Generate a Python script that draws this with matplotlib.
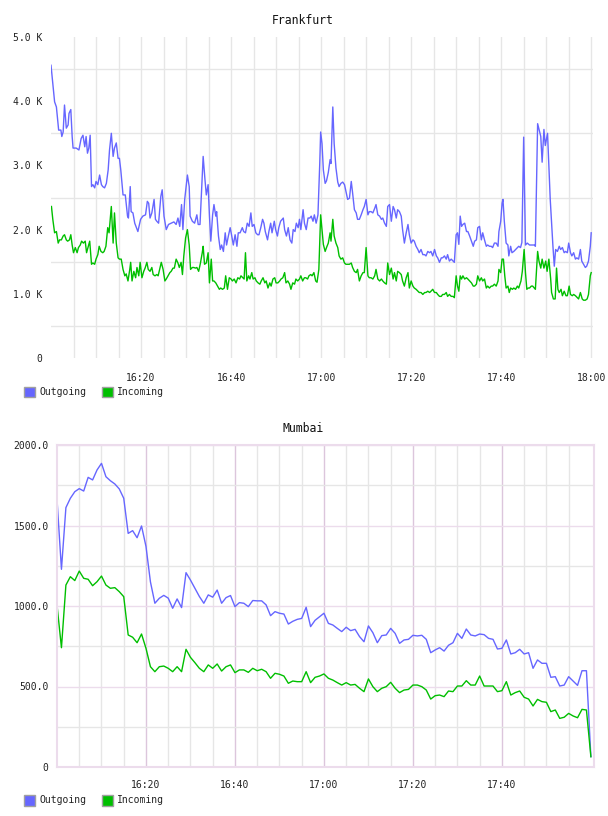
import matplotlib
matplotlib.use('Agg')
import matplotlib.pyplot as plt
from matplotlib.patches import Rectangle

# ---- Frankfurt (minutes after 16:00, values in K) ----
fra_out_min = [0.0, 0.8, 1.2, 1.7, 2.2, 2.4, 2.7, 3.0, 3.4, 3.8, 4.0, 4.4, 4.7, 4.9, 5.6, 6.2, 6.7, 7.1, 7.5, 7.8,
               8.1, 8.4, 8.7, 9.0, 9.3, 9.7, 10.0, 10.4, 10.8, 11.2, 11.5, 11.9, 12.3, 12.7, 13.0, 13.4, 13.8, 14.1,
               14.5, 14.9, 15.2, 15.5, 16.0, 16.5, 17.0, 17.2, 17.6, 17.8, 18.2, 18.6, 19.3, 19.9, 20.4, 21.0, 21.4,
               21.7, 22.0, 22.4, 22.9, 23.2, 23.5, 23.9, 24.4, 24.7, 25.1, 25.6, 26.1, 26.7, 27.3, 27.8, 28.2, 28.6,
               29.0, 29.3, 29.7, 30.3, 30.7, 30.9, 31.4, 31.9, 32.4, 32.7, 33.1, 33.8, 34.2, 34.5, 34.9, 35.2, 35.5,
               35.9, 36.2, 36.6, 36.8, 37.2, 37.6, 37.9, 38.3, 38.7, 39.0, 39.4, 39.8, 40.1, 40.5, 40.9, 41.3, 41.6,
               42.0, 42.5, 42.8, 43.2, 43.6, 44.0, 44.4, 44.7, 45.1, 45.5, 45.9, 46.2, 46.6, 47.0, 47.3, 47.6, 48.1,
               48.4, 48.8, 49.1, 49.6, 49.9, 50.3, 50.6, 51.0, 51.6, 51.9, 52.3, 52.7, 53.1, 53.5, 53.8, 54.2, 54.5,
               54.9, 55.2, 55.5, 56.0, 56.3, 56.7, 57.1, 57.5, 57.8, 58.2, 58.5, 58.9, 59.3, 59.7, 59.9, 60.2, 60.5,
               60.9, 61.2, 61.6, 62.0, 62.2, 62.6, 62.9, 63.3, 63.7, 64.0, 64.4, 64.8, 65.2, 65.6, 65.9, 66.3, 66.7,
               67.0, 67.4, 67.8, 68.1, 68.5, 68.9, 69.3, 69.6, 70.0, 70.4, 70.7, 71.1, 71.5, 71.9, 72.2, 72.6, 73.0,
               73.4, 73.7, 74.1, 74.5, 74.8, 75.2, 75.6, 76.0, 76.3, 76.7, 77.0, 77.4, 77.8, 78.1, 78.5, 78.9, 79.3,
               79.6, 80.0, 80.4, 80.7, 81.1, 81.5, 81.8, 82.2, 82.6, 83.0, 83.3, 83.7, 84.1, 84.4, 84.8, 85.2, 85.6,
               85.9, 86.3, 86.7, 87.0, 87.4, 87.8, 88.1, 88.5, 88.9, 89.3, 89.6, 90.0, 90.3, 90.6, 90.9, 91.2, 91.5,
               91.9, 92.3, 92.6, 93.0, 93.4, 93.8, 94.1, 94.5, 94.8, 95.2, 95.6, 95.9, 96.3, 96.7, 97.0, 97.4, 97.8,
               98.1, 98.5, 98.9, 99.3, 99.5, 99.9, 100.2, 100.4, 100.7, 101.1, 101.5, 101.7, 102.1, 102.4, 102.8,
               103.2, 103.6, 103.9, 104.3, 104.6, 105.0, 105.4, 105.8, 106.3, 106.9, 107.4, 107.6, 108.1, 108.8,
               109.1, 109.5, 109.8, 110.3, 110.9, 111.5, 111.8, 112.1, 112.5, 112.9, 113.2, 113.6, 114.0, 114.3,
               114.7, 115.0, 115.4, 115.7, 116.1, 116.5, 116.8, 117.2, 117.6, 117.9, 118.3, 118.7, 119.0, 119.4,
               119.8, 120.0]
fra_out_k = [4.56, 3.99, 3.91, 3.55, 3.55, 3.45, 3.52, 3.94, 3.58, 3.63, 3.81, 3.87, 3.45, 3.27, 3.27, 3.24, 3.42,
             3.47, 3.29, 3.45, 3.19, 3.27, 3.47, 2.67, 2.70, 2.65, 2.75, 2.70, 2.85, 2.70, 2.67, 2.65, 2.72, 2.93,
             3.24, 3.50, 3.14, 3.27, 3.35, 3.11, 3.11, 2.93, 2.54, 2.54, 2.21, 2.18, 2.67, 2.28, 2.26, 2.10, 1.97,
             2.16, 2.21, 2.23, 2.44, 2.41, 2.18, 2.26, 2.47, 2.16, 2.13, 2.10, 2.52, 2.62, 2.21, 2.00, 2.08, 2.10,
             2.12, 2.08, 2.18, 2.05, 2.39, 2.00, 2.47, 2.85, 2.67, 2.21, 2.13, 2.10, 2.23, 2.08, 2.08, 3.14, 2.78,
             2.54, 2.70, 2.21, 1.82, 2.23, 2.39, 2.21, 2.28, 1.90, 1.69, 1.76, 1.66, 1.95, 1.76, 1.90, 2.03, 1.92,
             1.76, 1.92, 1.74, 1.95, 1.95, 2.03, 1.97, 1.95, 2.10, 2.05, 2.26, 2.05, 2.08, 1.95, 1.92, 1.92, 2.03,
             2.16, 2.10, 1.97, 1.84, 1.97, 2.10, 1.95, 2.13, 2.00, 1.90, 2.03, 2.13, 2.18, 2.00, 1.90, 2.03, 1.84,
             1.79, 2.00, 1.97, 2.10, 2.03, 2.16, 2.00, 2.31, 2.10, 2.00, 2.18, 2.18, 2.21, 2.13, 2.23, 2.10, 2.23,
             3.03, 3.52, 3.34, 2.93, 2.72, 2.76, 2.89, 3.09, 3.03, 3.91, 3.34, 2.96, 2.74, 2.67, 2.72, 2.74, 2.70,
             2.57, 2.47, 2.49, 2.75, 2.57, 2.31, 2.26, 2.16, 2.16, 2.23, 2.31, 2.36, 2.47, 2.23, 2.28, 2.28, 2.26,
             2.33, 2.39, 2.23, 2.21, 2.16, 2.18, 2.10, 2.05, 2.36, 2.39, 2.13, 2.36, 2.31, 2.18, 2.31, 2.28, 2.21,
             2.00, 1.79, 1.95, 2.08, 1.92, 1.79, 1.84, 1.82, 1.74, 1.69, 1.64, 1.69, 1.61, 1.61, 1.59, 1.66, 1.64,
             1.66, 1.59, 1.69, 1.59, 1.56, 1.49, 1.56, 1.56, 1.59, 1.54, 1.61, 1.51, 1.54, 1.51, 1.49, 1.92, 1.95,
             1.77, 2.21, 2.05, 2.08, 2.10, 1.97, 1.97, 1.90, 1.82, 1.74, 1.82, 1.84, 2.03, 2.05, 1.84, 1.95, 1.84,
             1.74, 1.76, 1.74, 1.74, 1.72, 1.79, 1.79, 1.74, 1.97, 2.13, 2.41, 2.47, 2.13, 1.79, 1.76, 1.59, 1.74,
             1.64, 1.66, 1.69, 1.72, 1.74, 1.72, 1.80, 3.44, 1.76, 1.79, 1.76, 1.76, 1.76, 1.74, 3.65, 3.45, 3.05,
             3.56, 3.31, 3.50, 2.47, 1.74, 1.43, 1.69, 1.66, 1.74, 1.69, 1.72, 1.64, 1.66, 1.64, 1.79, 1.64, 1.59,
             1.64, 1.54, 1.56, 1.54, 1.69, 1.51, 1.46, 1.41, 1.43, 1.51, 1.74, 1.95]

fra_in_min = [0.1, 0.4, 0.8, 1.2, 1.6, 1.9, 2.3, 2.7, 3.0, 3.4, 3.7, 4.1, 4.4, 4.7, 5.0, 5.4, 5.8, 6.1, 6.5, 6.8,
              7.2, 7.6, 7.9, 8.3, 8.6, 9.0, 9.3, 9.7, 10.0, 10.4, 10.7, 11.1, 11.5, 11.8, 12.2, 12.6, 12.9, 13.4,
              13.8, 14.1, 14.5, 14.9, 15.2, 15.6, 16.0, 16.4, 16.7, 17.1, 17.5, 17.7, 18.0, 18.4, 18.8, 19.1, 19.5,
              19.8, 20.2, 20.6, 20.9, 21.3, 21.6, 22.0, 22.4, 22.7, 23.1, 23.5, 23.8, 24.2, 24.5, 24.9, 25.3, 25.6,
              26.0, 26.4, 26.7, 27.1, 27.4, 27.8, 28.2, 28.5, 28.9, 29.2, 29.5, 29.9, 30.3, 30.7, 31.0, 31.4, 31.7,
              32.1, 32.4, 32.8, 33.2, 33.6, 33.8, 34.1, 34.5, 34.9, 35.2, 35.6, 35.9, 36.2, 36.6, 37.0, 37.4, 37.7,
              38.1, 38.5, 38.8, 39.2, 39.6, 40.0, 40.3, 40.7, 41.1, 41.5, 41.9, 42.2, 42.6, 42.9, 43.2, 43.5, 43.9,
              44.2, 44.6, 44.9, 45.3, 45.6, 46.0, 46.4, 46.7, 47.1, 47.5, 47.8, 48.2, 48.6, 48.9, 49.3, 49.7, 50.0,
              50.4, 50.8, 51.1, 51.5, 51.9, 52.2, 52.6, 53.0, 53.3, 53.7, 54.1, 54.4, 54.8, 55.2, 55.5, 55.9, 56.3,
              56.6, 57.0, 57.3, 57.7, 58.0, 58.4, 58.8, 59.1, 59.5, 59.9, 60.2, 60.5, 60.9, 61.2, 61.6, 62.0, 62.2,
              62.6, 62.9, 63.3, 63.7, 64.0, 64.4, 64.8, 65.2, 65.5, 65.9, 66.3, 66.7, 67.0, 67.4, 67.8, 68.1, 68.5,
              68.9, 69.3, 69.6, 70.0, 70.4, 70.7, 71.1, 71.5, 71.9, 72.2, 72.6, 73.0, 73.4, 73.7, 74.1, 74.5, 74.8,
              75.2, 75.6, 76.0, 76.3, 76.7, 77.0, 77.4, 77.8, 78.1, 78.5, 78.9, 79.3, 79.6, 80.0, 80.4, 80.7, 81.1,
              81.5, 81.8, 82.2, 82.6, 83.0, 83.3, 83.7, 84.1, 84.4, 84.8, 85.2, 85.6, 85.9, 86.3, 86.7, 87.0, 87.4,
              87.8, 88.1, 88.5, 88.9, 89.3, 89.6, 90.0, 90.3, 90.6, 90.9, 91.2, 91.5, 91.9, 92.3, 92.6, 93.0, 93.4,
              93.8, 94.1, 94.5, 94.8, 95.2, 95.6, 95.9, 96.3, 96.7, 97.0, 97.4, 97.8, 98.1, 98.5, 98.9, 99.3, 99.5,
              99.9, 100.2, 100.5, 100.8, 101.1, 101.5, 101.8, 102.1, 102.5, 102.8, 103.2, 103.6, 103.9, 104.4, 104.7,
              105.1, 105.4, 105.7, 106.0, 106.3, 106.7, 107.0, 107.6, 107.9, 108.1, 108.4, 108.8, 109.1, 109.5,
              109.9, 110.2, 110.6, 111.0, 111.2, 111.6, 112.0, 112.3, 112.6, 112.9, 113.3, 113.6, 114.0, 114.4,
              114.7, 115.1, 115.4, 115.8, 116.1, 116.5, 116.9, 117.2, 117.6, 118.0, 118.3, 118.7, 119.1, 119.4,
              119.8, 120.0]
fra_in_k = [2.36, 2.16, 1.95, 1.97, 1.79, 1.84, 1.84, 1.90, 1.92, 1.84, 1.82, 1.84, 1.92, 1.76, 1.64, 1.72, 1.64,
            1.72, 1.76, 1.82, 1.79, 1.82, 1.64, 1.74, 1.82, 1.46, 1.48, 1.46, 1.54, 1.61, 1.74, 1.66, 1.64, 1.66,
            1.74, 2.03, 1.95, 2.36, 1.79, 2.26, 1.79, 1.56, 1.54, 1.54, 1.38, 1.28, 1.31, 1.20, 1.38, 1.49, 1.20,
            1.35, 1.25, 1.41, 1.28, 1.49, 1.25, 1.35, 1.40, 1.49, 1.38, 1.35, 1.41, 1.30, 1.28, 1.30, 1.28, 1.40,
            1.49, 1.38, 1.20, 1.23, 1.28, 1.33, 1.35, 1.40, 1.40, 1.54, 1.48, 1.41, 1.49, 1.30, 1.59, 1.87, 2.00,
            1.76, 1.38, 1.41, 1.41, 1.40, 1.41, 1.35, 1.48, 1.64, 1.74, 1.46, 1.48, 1.64, 1.17, 1.54, 1.20, 1.20,
            1.17, 1.12, 1.07, 1.09, 1.07, 1.09, 1.28, 1.07, 1.25, 1.23, 1.20, 1.23, 1.17, 1.25, 1.23, 1.28, 1.25,
            1.23, 1.64, 1.20, 1.28, 1.23, 1.33, 1.23, 1.25, 1.20, 1.17, 1.15, 1.20, 1.25, 1.17, 1.20, 1.09, 1.17,
            1.12, 1.23, 1.25, 1.17, 1.17, 1.20, 1.23, 1.25, 1.33, 1.17, 1.20, 1.15, 1.07, 1.17, 1.15, 1.23, 1.20,
            1.23, 1.28, 1.20, 1.25, 1.25, 1.23, 1.28, 1.30, 1.28, 1.33, 1.20, 1.18, 1.38, 2.23, 2.00, 1.77, 1.66,
            1.72, 1.79, 1.95, 1.82, 2.16, 1.90, 1.79, 1.72, 1.59, 1.54, 1.56, 1.48, 1.46, 1.46, 1.46, 1.48, 1.41,
            1.35, 1.33, 1.38, 1.20, 1.28, 1.33, 1.33, 1.72, 1.28, 1.25, 1.25, 1.23, 1.28, 1.38, 1.23, 1.20, 1.23,
            1.20, 1.17, 1.15, 1.48, 1.30, 1.40, 1.23, 1.33, 1.20, 1.35, 1.33, 1.30, 1.20, 1.12, 1.25, 1.33, 1.09,
            1.20, 1.12, 1.09, 1.07, 1.04, 1.02, 1.02, 0.99, 1.02, 1.02, 1.04, 1.02, 1.04, 1.07, 1.02, 1.02, 0.99,
            0.96, 0.96, 0.99, 0.99, 1.02, 0.96, 0.99, 0.96, 0.96, 0.94, 1.28, 1.12, 1.04, 1.28, 1.23, 1.28, 1.23,
            1.25, 1.23, 1.20, 1.17, 1.12, 1.12, 1.15, 1.28, 1.20, 1.25, 1.20, 1.23, 1.09, 1.12, 1.09, 1.12, 1.12,
            1.15, 1.12, 1.20, 1.38, 1.33, 1.54, 1.54, 1.28, 1.09, 1.12, 1.02, 1.09, 1.07, 1.09, 1.07, 1.12, 1.09,
            1.20, 1.35, 1.69, 1.33, 1.07, 1.09, 1.09, 1.12, 1.12, 1.07, 1.41, 1.66, 1.51, 1.40, 1.54, 1.40, 1.51,
            1.35, 1.54, 1.23, 1.02, 0.92, 0.92, 1.40, 1.07, 1.02, 1.07, 0.97, 1.04, 0.97, 0.97, 1.12, 0.99, 0.97,
            0.99, 0.97, 0.94, 0.92, 1.02, 0.92, 0.90, 0.90, 0.92, 0.99, 1.28, 1.33]

# ---- Mumbai (one sample per minute from 16:00) ----
mum_min = list(range(121))
mum_out = [1663, 1228, 1611, 1669, 1710, 1729, 1714, 1799, 1783, 1845, 1886, 1803, 1778, 1758, 1727, 1669,
           1451, 1468, 1424, 1497, 1370, 1150, 1017, 1048, 1066, 1049, 986, 1044, 990, 1207, 1161, 1110, 1059,
           1017, 1069, 1055, 1099, 1017, 1052, 1065, 996, 1021, 1017, 996, 1034, 1032, 1032, 1007, 940, 965,
           955, 950, 888, 905, 917, 923, 992, 872, 911, 933, 955, 892, 882, 861, 841, 868, 847, 855, 810, 778,
           876, 834, 772, 816, 820, 861, 830, 768, 789, 793, 818, 814, 818, 793, 710, 727, 741, 720, 756, 772,
           830, 799, 857, 820, 814, 826, 822, 799, 793, 733, 737, 789, 702, 710, 731, 702, 710, 613, 665, 644,
           644, 557, 561, 503, 509, 561, 534, 507, 598, 598, 64]
mum_in = [1006, 741, 1130, 1182, 1158, 1217, 1172, 1166, 1126, 1151, 1186, 1130, 1110, 1114, 1089, 1058,
          820, 806, 772, 826, 737, 623, 592, 623, 627, 613, 592, 623, 592, 731, 681, 648, 613, 592, 634, 613,
          640, 596, 623, 634, 586, 603, 603, 588, 613, 598, 607, 592, 551, 582, 576, 565, 520, 534, 530, 530,
          592, 524, 557, 565, 578, 551, 540, 524, 509, 524, 509, 513, 489, 468, 547, 499, 468, 489, 499, 526,
          489, 462, 478, 482, 509, 509, 499, 478, 422, 443, 447, 437, 472, 468, 503, 503, 536, 509, 509, 565,
          503, 503, 503, 468, 474, 530, 447, 462, 472, 433, 422, 379, 420, 406, 402, 344, 354, 302, 309, 333,
          317, 306, 358, 354, 64]

fra_xticks = [20, 40, 60, 80, 100, 120]
fra_xlabels = ['16:20', '16:40', '17:00', '17:20', '17:40', '18:00']
fra_yticks = [0, 1, 2, 3, 4, 5]
fra_ylabels = ['0', '1.0 K', '2.0 K', '3.0 K', '4.0 K', '5.0 K']
mum_xticks = [20, 40, 60, 80, 100]
mum_xlabels = ['16:20', '16:40', '17:00', '17:20', '17:40']
mum_yticks = [0, 500, 1000, 1500, 2000]
mum_ylabels = ['0', '500.0', '1000.0', '1500.0', '2000.0']

BLUE = '#6666ff'
GREEN = '#00bf00'
GRID = '#e6e6e6'
PINK = '#ecdcec'
PURPLE = '#dcc6dc'
TXT = '#222222'

plt.rcParams['font.family'] = ['DejaVu Sans Mono']

W, H = 608, 816
fig = plt.figure(figsize=(W / 100, H / 100), dpi=100)


def box(left, top, right, bottom):
    return [left / W, 1 - bottom / H, (right - left) / W, (bottom - top) / H]


def legend(y):
    for x, color, label in [(24, BLUE, 'Outgoing'), (102, GREEN, 'Incoming')]:
        fig.patches.append(Rectangle((x / W, 1 - (y + 5.5) / H), 11 / W, 11 / H,
                                     transform=fig.transFigure, facecolor=color,
                                     edgecolor='#a0a0a0', lw=1))
        fig.text((x + 15) / W, 1 - y / H, label, va='center', ha='left',
                 fontsize=7, color=TXT)


# Frankfurt
ax1 = fig.add_axes(box(51, 37, 593, 358))
ax1.plot(fra_out_min, fra_out_k, color=BLUE, lw=1)
ax1.plot(fra_in_min, fra_in_k, color=GREEN, lw=1)
ax1.set_xlim(0, 120.4)
ax1.set_ylim(0, 5)
ax1.set_xticks(fra_xticks)
ax1.set_xticklabels(fra_xlabels)
ax1.set_xticks([m for m in range(5, 120, 5) if m % 20], minor=True)
ax1.set_yticks(fra_yticks)
ax1.set_yticklabels(fra_ylabels)
ax1.set_yticks([0.5, 1.5, 2.5, 3.5, 4.5], minor=True)
ax1.grid(True, axis='x', which='both', color=GRID, lw=1)
ax1.grid(True, axis='y', which='minor', color=GRID, lw=1)
ax1.grid(False, axis='y', which='major')
for s in ax1.spines.values():
    s.set_visible(False)
ax1.tick_params(which='both', length=0)
ax1.tick_params(axis='x', pad=11, labelsize=7, labelcolor=TXT)
ax1.tick_params(axis='y', pad=6, labelsize=7, labelcolor=TXT)
ax1.set_axisbelow(True)
fig.text(303 / W, 1 - 20 / H, 'Frankfurt', ha='center', va='center', fontsize=8.3, color='#111111')
legend(392)

# Mumbai
ax2 = fig.add_axes(box(57, 445, 594, 767))
ax2.plot(mum_min, mum_out, color=BLUE, lw=1)
ax2.plot(mum_min, mum_in, color=GREEN, lw=1)
ax2.set_xlim(0, 120.7)
ax2.set_ylim(0, 2000)
ax2.set_xticks(mum_xticks)
ax2.set_xticklabels(mum_xlabels)
ax2.set_xticks([m for m in range(5, 120, 5) if m % 20], minor=True)
ax2.set_yticks(mum_yticks)
ax2.set_yticklabels(mum_ylabels)
ax2.set_yticks([250, 750, 1250, 1750], minor=True)
ax2.grid(True, axis='x', which='major', color=PURPLE, lw=1)
ax2.grid(True, axis='x', which='minor', color=GRID, lw=1)
ax2.grid(True, axis='y', which='major', color=PINK, lw=1)
ax2.grid(True, axis='y', which='minor', color=GRID, lw=1)
for s in ax2.spines.values():
    s.set_color(PINK)
    s.set_linewidth(1.5)
ax2.tick_params(which='both', length=0)
ax2.tick_params(axis='x', pad=9, labelsize=7, labelcolor=TXT)
ax2.tick_params(axis='y', pad=6, labelsize=7, labelcolor=TXT)
ax2.set_axisbelow(True)
fig.text(303 / W, 1 - 429 / H, 'Mumbai', ha='center', va='center', fontsize=8.3, color='#111111')
legend(800)

fig.savefig('out.png', dpi=100)
